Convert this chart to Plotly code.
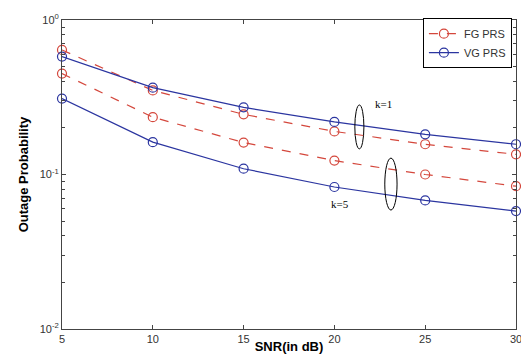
import plotly.graph_objects as go

snr = [5, 10, 15, 20, 25, 30]
fg_k1 = [0.64, 0.35, 0.245, 0.19, 0.157, 0.135]
fg_k5 = [0.45, 0.235, 0.161, 0.123, 0.10, 0.084]
vg_k1 = [0.58, 0.365, 0.272, 0.219, 0.182, 0.157]
vg_k5 = [0.31, 0.162, 0.109, 0.083, 0.068, 0.058]

x_ticks = [5, 10, 15, 20, 25, 30]
y_tickvals = [1, 0.1, 0.01]
y_ticktext = ["10<sup>0</sup>", "10<sup>-1</sup>", "10<sup>-2</sup>"]

RED = "#d4473c"
BLUE = "#2b35a0"

fig = go.Figure()

def add(y, name, color, dash, show):
    fig.add_trace(go.Scatter(
        x=snr, y=y, name=name, legendgroup=name, showlegend=show,
        mode="lines+markers",
        line=dict(color=color, width=1.2, dash=dash),
        marker=dict(symbol="circle-open", size=9, color=color, line=dict(width=1.2)),
        cliponaxis=False,
    ))

add(fg_k1, "FG PRS", RED, "dash", True)
add(fg_k5, "FG PRS", RED, "dash", False)
add(vg_k1, "VG PRS", BLUE, "solid", True)
add(vg_k5, "VG PRS", BLUE, "solid", False)

# ellipses (paper coords)
fig.add_shape(type="circle", xref="paper", yref="paper",
              x0=0.645, x1=0.665, y0=0.583, y1=0.725,
              line=dict(color="black", width=1))
fig.add_shape(type="circle", xref="paper", yref="paper",
              x0=0.711, x1=0.738, y0=0.385, y1=0.553,
              line=dict(color="black", width=1))
fig.add_annotation(text="k=1", xref="paper", yref="paper", x=0.685, y=0.755,
                   xanchor="left", showarrow=False,
                   font=dict(family="Liberation Serif", size=11, color="black"))
fig.add_annotation(text="k=5", xref="paper", yref="paper", x=0.612, y=0.405,
                   xanchor="center", showarrow=False,
                   font=dict(family="Liberation Serif", size=11, color="black"))

fig.update_layout(
    width=521, height=354,
    margin=dict(l=62, r=5, t=20, b=25, autoexpand=False),
    paper_bgcolor="white", plot_bgcolor="white",
    font=dict(family="Liberation Sans, Arial", size=11, color="#333"),
    legend=dict(x=0.991, y=1.006, xanchor="right", yanchor="top",
                bordercolor="black", borderwidth=1, bgcolor="white",
                font=dict(size=11, color="#333"), tracegroupgap=0,
                itemwidth=30),
)
fig.update_xaxes(
    range=[5, 30], tickvals=x_ticks, ticks="inside", ticklen=4,
    ticklabeloverflow="allow",
    showline=True, linecolor="#444", linewidth=1, mirror="ticks",
    showgrid=False, zeroline=False, automargin=False,
    title=dict(text="<b>SNR(in dB)</b>", font=dict(size=13, color="black"), standoff=0),
)
fig.update_yaxes(
    type="log", range=[-2, 0], tickvals=y_tickvals, ticktext=y_ticktext,
    ticks="inside", ticklen=4,
    minor=dict(ticks="inside", ticklen=3, dtick="D1", showgrid=False, tickcolor="#444"),
    showline=True, linecolor="#444", linewidth=1, mirror="ticks",
    showgrid=False, zeroline=False, automargin=False,
    title=dict(text="<b>Outage Probability</b>", font=dict(size=13, color="black"), standoff=8),
)

fig.write_html("out.html", config={"displayModeBar": False},
               post_script="document.body.style.margin='0';")
